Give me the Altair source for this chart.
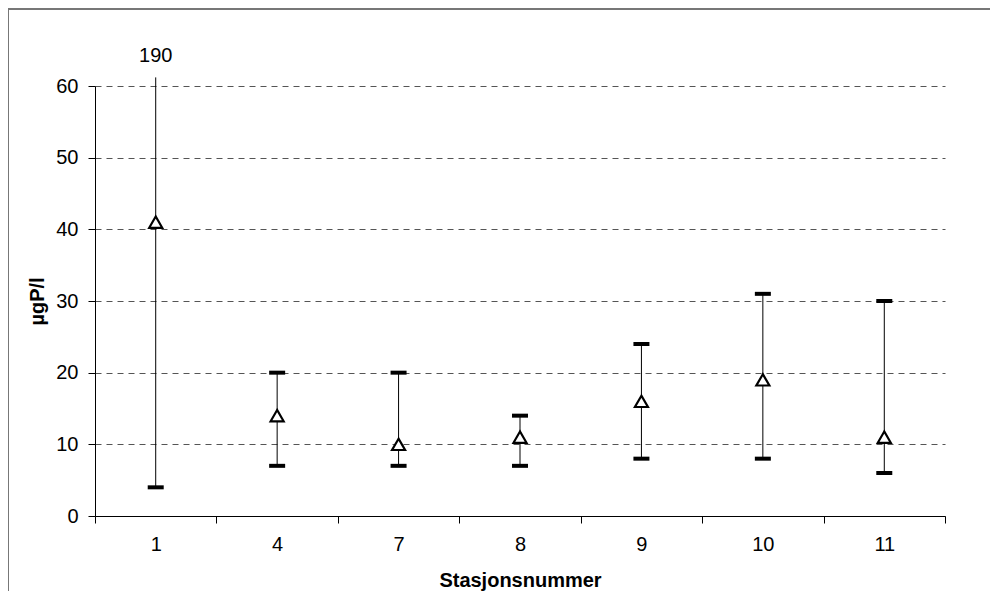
import altair as alt
import pandas as pd

stations = ["1", "4", "7", "8", "9", "10", "11"]
means = [41, 14, 10, 11, 16, 19, 11]
lows = [4, 7, 7, 7, 8, 8, 6]
highs = [190, 20, 20, 14, 24, 31, 30]

df = pd.DataFrame({"st": stations, "mean": means, "lo": lows, "hi": highs})

FONT = "Liberation Sans"
FS = 20
YMAX = 60

x = alt.X("st:N", sort=stations, title="Stasjonsnummer",
          scale=alt.Scale(paddingInner=0, paddingOuter=0),
          axis=alt.Axis(labelAngle=0, tickBand="extent", tickSize=7, tickColor="black",
                        domainColor="black", labelFontSize=FS, labelFont=FONT,
                        labelColor="black", labelPadding=11, titleFont=FONT,
                        titleFontSize=FS, titleFontWeight="bold", titleColor="black",
                        titlePadding=16, grid=False))

yscale = alt.Scale(domain=[0, YMAX], nice=False)
yaxis = alt.Axis(values=[0, 10, 20, 30, 40, 50, 60], tickSize=7, tickColor="black",
                 domainColor="black", labelFontSize=FS, labelFont=FONT, labelColor="black",
                 labelPadding=10, titleFont=FONT, titleFontSize=FS, titleFontWeight="bold",
                 titleColor="black", titlePadding=8, grid=True, gridColor="#555555",
                 gridDash=[6, 5], gridWidth=1)

base = alt.Chart(df)

rules = base.transform_calculate(hiClip="min(datum.hi, 61.2)").mark_rule(
    color="black", strokeWidth=1, clip=False).encode(
    x=x,
    y=alt.Y("lo:Q", scale=yscale, axis=yaxis, title="µgP/l"),
    y2="hiClip:Q")

border = base.transform_filter("datum.st == '1'").mark_rect(
    fillOpacity=0, fill="white", stroke="#777777", strokeWidth=2, clip=False).encode(
    x=alt.value(-87), x2=alt.value(960), y=alt.value(-77), y2=alt.value(700))

lo_caps = base.mark_tick(color="black", thickness=4, size=16, opacity=1).encode(
    x=alt.X("st:N", sort=stations), y=alt.Y("lo:Q"))

hi_caps = base.transform_filter(f"datum.hi <= {YMAX}").mark_tick(
    color="black", thickness=4, size=16, opacity=1).encode(
    x=alt.X("st:N", sort=stations), y=alt.Y("hi:Q"))

hi_text = base.transform_filter(f"datum.hi > {YMAX}").mark_text(
    font=FONT, fontSize=FS, color="black", baseline="middle", clip=False).encode(
    x=alt.X("st:N", sort=stations), y=alt.value(-30), text="hi:Q")

pts = base.mark_point(shape="triangle-up", size=170, filled=True, fill="white",
                      stroke="black", strokeWidth=2.2, opacity=1).encode(
    x=alt.X("st:N", sort=stations), y=alt.Y("mean:Q"))

chart = alt.layer(rules, border, lo_caps, hi_caps, pts, hi_text).properties(
    width=850, height=430,
    autosize=alt.AutoSizeParams(type="none"),
    padding={"left": 87, "top": 78, "right": 45, "bottom": 75},
    background="white",
).configure_view(stroke=None)

chart.save("out.html", embed_options={"renderer": "svg", "actions": False})
